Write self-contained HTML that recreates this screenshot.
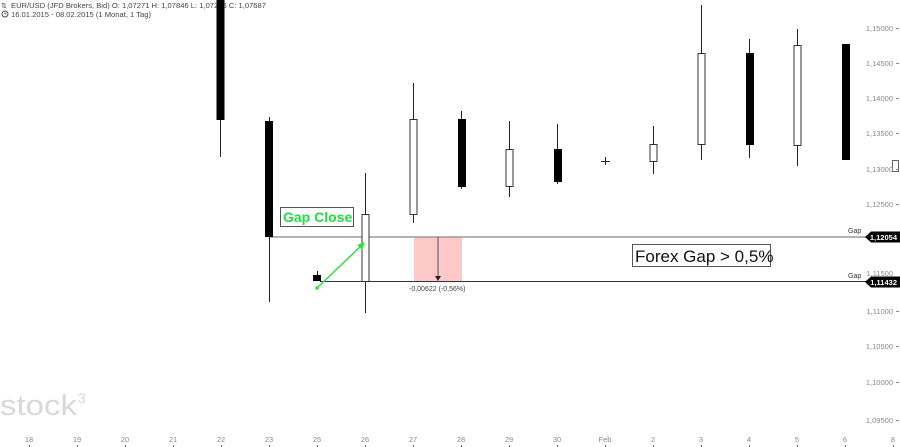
<!DOCTYPE html>
<html><head><meta charset="utf-8"><style>
html,body{margin:0;padding:0;background:#fff;}
svg{display:block;font-family:"Liberation Sans",sans-serif;}
</style></head><body>
<svg width="900" height="447" viewBox="0 0 900 447" xmlns="http://www.w3.org/2000/svg">
<rect width="900" height="447" fill="#fff"/>
<!-- watermark -->
<text x="0" y="415" font-size="29" fill="#d8d8d8" textLength="77" lengthAdjust="spacingAndGlyphs">stock</text>
<text x="78" y="403" font-size="14" fill="#d8d8d8">3</text>
<!-- header -->
<text x="1" y="8" font-size="7" fill="#444">⇅</text>
<text x="11" y="8" font-size="7.6" fill="#444">EUR/USD (JFD Brokers, Bid)  O: 1,07271  H: 1,07846  L: 1,07246  C: 1,07687</text>
<circle cx="5" cy="14" r="3" fill="none" stroke="#444" stroke-width="0.9"/>
<path d="M5 12.3V14H6.5" fill="none" stroke="#444" stroke-width="0.8"/>
<text x="11" y="17" font-size="7.6" fill="#444">16.01.2015 - 08.02.2015  (1 Monat, 1 Tag)</text>

<!-- gap area -->
<rect x="414" y="237" width="48" height="44" fill="#fcc8c8"/>
<line x1="269" y1="237" x2="866" y2="237" stroke="#9a9a9a" stroke-width="1.5"/>
<line x1="320" y1="281.5" x2="866" y2="281.5" stroke="#333" stroke-width="1"/>
<line x1="438" y1="237" x2="438" y2="277" stroke="#555" stroke-width="1"/>
<path d="M435 276 L441 276 L438 281 Z" fill="#222"/>
<text x="409" y="291" font-size="7" fill="#444">-0,00622 (-0,56%)</text>

<!-- candles -->
<g stroke="#222" stroke-width="1">
<line x1="220.5" y1="0" x2="220.5" y2="157"/>
<line x1="269.5" y1="117" x2="269.5" y2="302"/>
<line x1="317.5" y1="271" x2="317.5" y2="281"/>
<line x1="365.5" y1="173" x2="365.5" y2="313"/>
<line x1="413.5" y1="83" x2="413.5" y2="223"/>
<line x1="461.5" y1="111" x2="461.5" y2="189"/>
<line x1="509.5" y1="121" x2="509.5" y2="197"/>
<line x1="557.5" y1="124" x2="557.5" y2="184"/>
<line x1="605.5" y1="157" x2="605.5" y2="165"/>
<line x1="601" y1="161.5" x2="610" y2="161.5"/>
<line x1="653.5" y1="126" x2="653.5" y2="174"/>
<line x1="701.5" y1="5" x2="701.5" y2="160"/>
<line x1="749.5" y1="39" x2="749.5" y2="158"/>
<line x1="797.5" y1="29" x2="797.5" y2="166"/>
<line x1="845.5" y1="44" x2="845.5" y2="160"/>
</g>
<g fill="#000">
<rect x="216.5" y="0" width="8" height="120"/>
<rect x="265" y="121" width="8" height="116"/>
<rect x="313" y="275" width="8" height="6"/>
<rect x="458" y="119" width="8" height="68"/>
<rect x="554" y="149" width="8" height="33"/>
<rect x="746" y="53" width="8" height="92"/>
<rect x="842" y="44" width="8" height="116"/>
</g>
<g fill="#fff" stroke="#333" stroke-width="1">
<rect x="362" y="214.5" width="7" height="67"/>
<rect x="410" y="119.5" width="7" height="95"/>
<rect x="506" y="149.5" width="7" height="37"/>
<rect x="650" y="144.5" width="7" height="17"/>
<rect x="698" y="53.5" width="7" height="91"/>
<rect x="794" y="45.5" width="7" height="100"/>
<rect x="892.5" y="160.5" width="6" height="11" stroke="#666"/>
</g>

<!-- Gap Close annotation -->
<rect x="280.5" y="207.5" width="73" height="19" fill="#fff" stroke="#555" stroke-width="1"/>
<text x="283" y="222" font-size="14" font-weight="bold" fill="#22dd44">Gap Close</text>
<line x1="317" y1="288" x2="362" y2="245" stroke="#33dd44" stroke-width="1.5"/>
<path d="M365 242 L357 245 L362 250 Z" fill="#33dd44"/>
<circle cx="317" cy="288" r="1.8" fill="#33dd44"/>

<!-- Forex Gap annotation -->
<rect x="632.5" y="244.5" width="138" height="22" fill="#fff" stroke="#555" stroke-width="1"/>
<text x="635" y="262" font-size="17" fill="#111">Forex Gap &gt; 0,5%</text>

<!-- right axis labels -->
<g font-size="7.5" fill="#888" text-anchor="end">
<text x="893" y="31">1,15000</text>
<text x="893" y="66">1,14500</text>
<text x="893" y="101">1,14000</text>
<text x="893" y="136">1,13500</text>
<text x="893" y="172">1,13000</text>
<text x="893" y="207">1,12500</text>
<text x="893" y="276">1,11500</text>
<text x="893" y="314">1,11000</text>
<text x="893" y="349">1,10500</text>
<text x="893" y="385">1,10000</text>
<text x="893" y="423">1,09500</text>
</g>
<g stroke="#888" stroke-width="1">
<line x1="896" y1="28.5" x2="899" y2="28.5"/>
<line x1="896" y1="63.5" x2="899" y2="63.5"/>
<line x1="896" y1="98.5" x2="899" y2="98.5"/>
<line x1="896" y1="133.5" x2="899" y2="133.5"/>
<line x1="896" y1="169.5" x2="899" y2="169.5"/>
<line x1="896" y1="204.5" x2="899" y2="204.5"/>
<line x1="896" y1="311.5" x2="899" y2="311.5"/>
<line x1="896" y1="346.5" x2="899" y2="346.5"/>
<line x1="896" y1="382.5" x2="899" y2="382.5"/>
<line x1="896" y1="420.5" x2="899" y2="420.5"/>
</g>
<!-- gap tags -->
<text x="848" y="233" font-size="7" fill="#333">Gap</text>
<text x="848" y="278" font-size="7" fill="#333">Gap</text>
<path d="M865 237 L871 231.5 L900 231.5 L900 242.5 L871 242.5 Z" fill="#000"/>
<path d="M865 282 L871 276.5 L900 276.5 L900 287.5 L871 287.5 Z" fill="#000"/>
<text x="897" y="240" font-size="7.5" font-weight="bold" fill="#fff" text-anchor="end">1,12054</text>
<text x="897" y="285" font-size="7.5" font-weight="bold" fill="#fff" text-anchor="end">1,11432</text>

<!-- x axis -->
<g font-size="7.5" fill="#888" text-anchor="middle">
<text x="29" y="442">18</text>
<text x="77" y="442">19</text>
<text x="125" y="442">20</text>
<text x="173" y="442">21</text>
<text x="221" y="442">22</text>
<text x="269" y="442">23</text>
<text x="317" y="442">25</text>
<text x="365" y="442">26</text>
<text x="413" y="442">27</text>
<text x="461" y="442">28</text>
<text x="509" y="442">29</text>
<text x="557" y="442">30</text>
<text x="605" y="442">Feb</text>
<text x="653" y="442">2</text>
<text x="701" y="442">3</text>
<text x="749" y="442">4</text>
<text x="797" y="442">5</text>
<text x="845" y="442">6</text>
<text x="893" y="442">8</text>
</g>
<g stroke="#666" stroke-width="1">
<line x1="29.5" y1="445" x2="29.5" y2="447"/>
<line x1="77.5" y1="445" x2="77.5" y2="447"/>
<line x1="125.5" y1="445" x2="125.5" y2="447"/>
<line x1="173.5" y1="445" x2="173.5" y2="447"/>
<line x1="221.5" y1="445" x2="221.5" y2="447"/>
<line x1="269.5" y1="445" x2="269.5" y2="447"/>
<line x1="317.5" y1="445" x2="317.5" y2="447"/>
<line x1="365.5" y1="445" x2="365.5" y2="447"/>
<line x1="413.5" y1="445" x2="413.5" y2="447"/>
<line x1="461.5" y1="445" x2="461.5" y2="447"/>
<line x1="509.5" y1="445" x2="509.5" y2="447"/>
<line x1="557.5" y1="445" x2="557.5" y2="447"/>
<line x1="605.5" y1="445" x2="605.5" y2="447"/>
<line x1="653.5" y1="445" x2="653.5" y2="447"/>
<line x1="701.5" y1="445" x2="701.5" y2="447"/>
<line x1="749.5" y1="445" x2="749.5" y2="447"/>
<line x1="797.5" y1="445" x2="797.5" y2="447"/>
<line x1="845.5" y1="445" x2="845.5" y2="447"/>
<line x1="893.5" y1="445" x2="893.5" y2="447"/>
</g>
</svg>
</body></html>
